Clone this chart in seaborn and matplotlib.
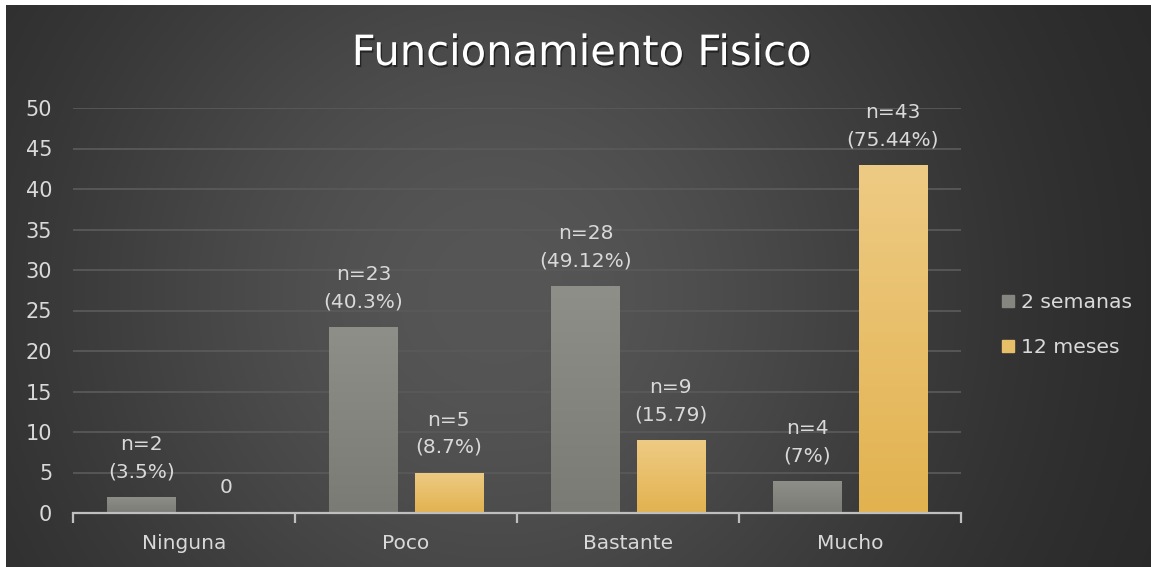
import numpy as np
import pandas as pd
import matplotlib
matplotlib.use("Agg")
import matplotlib.pyplot as plt
import matplotlib.patheffects as pe
import seaborn as sns
from matplotlib.colors import LinearSegmentedColormap
from matplotlib.lines import Line2D

# ---------------- data ----------------
categories = ["Ninguna", "Poco", "Bastante", "Mucho"]
series_names = ["2 semanas", "12 meses"]
values_2sem = [2, 23, 28, 4]
values_12mes = [0, 5, 9, 43]
labels_2sem = ["n=2\n(3.5%)", "n=23\n(40.3%)", "n=28\n(49.12%)", "n=4\n(7%)"]
labels_12mes = ["0", "n=5\n(8.7%)", "n=9\n(15.79)", "n=43\n(75.44%)"]
y_ticks = [0, 5, 10, 15, 20, 25, 30, 35, 40, 45, 50]
title = "Funcionamiento Fisico"

df = pd.DataFrame({
    "cat": categories * 2,
    "serie": [series_names[0]] * len(categories) + [series_names[1]] * len(categories),
    "val": values_2sem + values_12mes,
})

# ---------------- style ----------------
sns.set_theme(style="dark")
plt.rcParams["font.family"] = ["DejaVu Sans"]
TXT = "#d9d9d9"
GRAY = "#85867f"
GOLD = "#e8bf69"

W, H = 1151, 567
fig = plt.figure(figsize=(W / 100, H / 100), dpi=100)
fig.patch.set_facecolor("white")

# background with smooth radial gradient
bg = fig.add_axes([6 / W, 0, 1 - 6 / W, 1 - 5 / H])
bh, bw = 562, 1145
yy, xx = np.mgrid[0:bh, 0:bw]
d = np.sqrt((xx - 490.0) ** 2 + ((yy - 290.0) * 1.0) ** 2)
v = (36 + 50 * np.exp(-(d / 480.0) ** 2)) / 255.0
rgb = np.dstack([v, v, v])
bg.imshow(rgb, aspect="auto", extent=[0, 1, 0, 1], interpolation="bilinear")
bg.set_axis_off()

# main axes
x0, x1 = 73 / W, 961 / W
y0, y1 = 1 - 513 / H, 1 - 108 / H
ax = fig.add_axes([x0, y0, x1 - x0, y1 - y0])
ax.set_facecolor("none")

sns.barplot(data=df, x="cat", y="val", hue="serie", palette=[GRAY, GOLD],
            width=0.766, gap=0.2, saturation=1, linewidth=0, legend=False,
            errorbar=None, ax=ax, zorder=3)

# gradient fill on bars
gray_cmap = LinearSegmentedColormap.from_list("g", ["#7a7b75", "#8e8f89"])
gold_cmap = LinearSegmentedColormap.from_list("y", ["#e2b24f", "#eecb84"])
grad = np.linspace(0, 1, 256).reshape(-1, 1)
for container, cmap in zip(ax.containers, [gray_cmap, gold_cmap]):
    for bar in container:
        h = bar.get_height()
        if h <= 0:
            continue
        bx = bar.get_x()
        bwid = bar.get_width()
        im = ax.imshow(grad, extent=[bx, bx + bwid, 0, h], origin="lower",
                       aspect="auto", cmap=cmap, zorder=3.1, interpolation="bilinear")
        im.set_clip_path(bar)

# data labels
for container, labels in zip(ax.containers, [labels_2sem, labels_12mes]):
    for bar, lab in zip(container, labels):
        ax.annotate(lab, (bar.get_x() + bar.get_width() / 2, bar.get_height()),
                    xytext=(0, 11.2), textcoords="offset points", ha="center",
                    va="bottom", color=TXT, fontsize=14.5, linespacing=1.55,
                    zorder=5)

ax.set_xlim(-0.5, len(categories) - 0.5)
ax.set_ylim(0, 50)
ax.set_yticks(y_ticks)
ax.set_xlabel("")
ax.set_ylabel("")

ax.yaxis.grid(True, color="#595959", linewidth=1.3)
ax.xaxis.grid(False)
ax.set_axisbelow(True)
for s in ["top", "right", "left"]:
    ax.spines[s].set_visible(False)
ax.spines["bottom"].set_color("#bfbfbf")
ax.spines["bottom"].set_linewidth(1.6)
ax.spines["bottom"].set_zorder(6)

ax.set_xticks(np.arange(-0.5, len(categories), 1.0), minor=True)
ax.tick_params(axis="x", which="minor", length=7, width=1.6, color="#bfbfbf",
               direction="out", bottom=True)
ax.tick_params(axis="x", which="major", length=0, pad=15, labelsize=14.5,
               labelcolor=TXT, bottom=True)
ax.tick_params(axis="y", which="major", length=0, pad=15, labelsize=15,
               labelcolor=TXT)

# legend
handles = [Line2D([], [], marker="s", linestyle="none", markersize=8.6,
                  markerfacecolor=c, markeredgecolor=c) for c in [GRAY, GOLD]]
leg = fig.legend(handles, series_names, loc="center left",
                 bbox_to_anchor=(1001.75 / W, 1 - 325 / H), frameon=False,
                 fontsize=14.7, labelcolor=TXT, handlelength=0.6,
                 handletextpad=0.33, labelspacing=1.25, borderpad=0,
                 borderaxespad=0)

# title
fig.text(0.505, 1 - 53 / H, title, ha="center", va="center", fontsize=30,
         color="white",
         path_effects=[pe.withSimplePatchShadow(offset=(1, -1.5), shadow_rgbFace="black",
                                                alpha=0.5)])

fig.savefig("out.png", dpi=100, facecolor=fig.get_facecolor())
